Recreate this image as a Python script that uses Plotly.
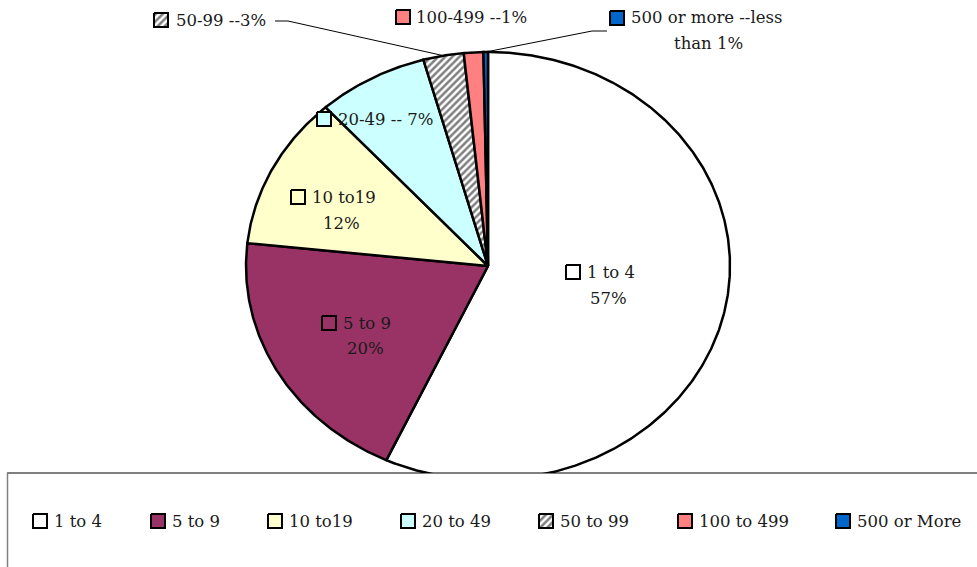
import numpy as np
import plotly.graph_objects as go

# Establishments by employment-size class (share of total, %)
categories = ["1 to 4", "5 to 9", "10 to19", "20 to 49", "50 to 99", "100 to 499", "500 or More"]
shares = [56.9, 19.8, 11.6, 7.4, 2.7, 1.3, 0.3]
label_names = ["1 to 4", "5 to 9", "10 to19", "20-49", "50-99", "100-499", "500 or more"]

colors = ["#FFFFFF", "#993366", "#FFFFCC", "#CCFFFF", "#FFFFFF", "#FF8080", "#0066CC"]
patterned = [False, False, False, False, True, False, False]

W, H = 977, 567
CX, CY, RX, RY = 488, 266, 242, 214          # ellipse centre and radii (px)
FONT = dict(family="DejaVu Serif", size=16.5, color="#1a1a1a")
HATCH = dict(shape="/", fgcolor="black", bgcolor="white", size=5, solidity=0.5)


def pct_text(v):
    return "less than 1%" if v < 1 else f"{round(v)}%"


def edge_point(frac):
    a = 2 * np.pi * frac
    return CX + RX * np.sin(a), CY - RY * np.cos(a)


def square(x0, y0, s=14):
    return [x0, x0 + s, x0 + s, x0, x0], [y0, y0, y0 + s, y0 + s, y0]


fig = go.Figure()

# pie wedges, clockwise from 12 o'clock
total = sum(shares)
cum = np.concatenate([[0], np.cumsum(shares)]) / total
for i, cat in enumerate(categories):
    a0, a1 = cum[i], cum[i + 1]
    n = max(int((a1 - a0) * 720) + 2, 3)
    t = np.linspace(a0, a1, n)
    ex, ey = edge_point(t)
    xs = np.concatenate([[CX], ex, [CX]])
    ys = np.concatenate([[CY], ey, [CY]])
    kw = dict(fillpattern=HATCH) if patterned[i] else dict(fillcolor=colors[i])
    fig.add_trace(go.Scatter(x=xs, y=ys, mode="lines", fill="toself",
                             line=dict(color="black", width=2.5),
                             hoverinfo="skip", showlegend=False, **kw))

# leader lines for the two outer labels
mid = (cum[:-1] + cum[1:]) / 2
leaders = {4: [(275, 21), (288, 21)], 6: [(607, 31), (592, 31)]}
for i, pts in leaders.items():
    px, py = edge_point(mid[i])
    xs = [p[0] for p in pts] + [px]
    ys = [p[1] for p in pts] + [py]
    fig.add_trace(go.Scatter(x=xs, y=ys, mode="lines",
                             line=dict(color="black", width=1),
                             hoverinfo="skip", showlegend=False))

# legend panel covering the lower part of the pie
fig.add_trace(go.Scatter(x=[7, 990, 990, 7, 7], y=[473, 473, 600, 600, 473],
                         mode="none", fill="toself", fillcolor="white",
                         hoverinfo="skip", showlegend=False))

annotations = []


def add_text(x, y, text, anchor="left"):
    annotations.append(dict(x=x, y=y, xref="x", yref="y", text=text, showarrow=False,
                            xanchor=anchor, yanchor="middle", font=FONT))


def add_swatch(i, x0, y0):
    xs, ys = square(x0, y0)
    kw = dict(fillpattern=HATCH) if patterned[i] else dict(fillcolor=colors[i])
    fig.add_trace(go.Scatter(x=xs, y=ys, mode="lines", fill="toself",
                             line=dict(color="black", width=2),
                             hoverinfo="skip", showlegend=False, **kw))


# data labels: (square x, square y, name x, name y, pct x, pct y)
inner = {
    0: (566, 265, 585, 272, 608, 298),
    1: (322, 316, 341, 323, 365, 348),
    2: (291, 190, 310, 197, 341, 223),
}
for i, (sx, sy, nx, ny, qx, qy) in inner.items():
    add_swatch(i, sx, sy)
    add_text(nx, ny, label_names[i])
    add_text(qx, qy, pct_text(shares[i]), anchor="center")

one_line = {3: (317, 112, 336, 119, " -- "), 4: (154, 13, 174, 20, " --"),
            5: (396, 10, 414, 17, " --")}
for i, (sx, sy, nx, ny, sep) in one_line.items():
    add_swatch(i, sx, sy)
    add_text(nx, ny, label_names[i] + sep + pct_text(shares[i]))

# smallest class: label wraps onto two lines
add_swatch(6, 610, 11)
words = pct_text(shares[6]).split(" ", 1)
add_text(629, 17, label_names[6] + " --" + words[0])
add_text(708, 43, words[1], anchor="center")

# legend row
legend_x = [52, 170, 287, 420, 558, 697, 855]
for i, cat in enumerate(categories):
    add_swatch(i, legend_x[i] - 19, 514)
    add_text(legend_x[i], 521, cat)

fig.update_layout(
    width=W, height=H,
    margin=dict(l=0, r=0, t=0, b=0),
    paper_bgcolor="white", plot_bgcolor="white",
    xaxis=dict(range=[0, W], visible=False, fixedrange=True),
    yaxis=dict(range=[H, 0], visible=False, fixedrange=True),
    annotations=annotations,
    shapes=[
        dict(type="line", xref="x", yref="y", x0=7, x1=W, y0=473, y1=473,
             line=dict(color="black", width=1.2)),
        dict(type="line", xref="x", yref="y", x0=7.5, x1=7.5, y0=473, y1=H,
             line=dict(color="#808080", width=1.5)),
    ],
    showlegend=False,
)

fig.write_html("out.html")
